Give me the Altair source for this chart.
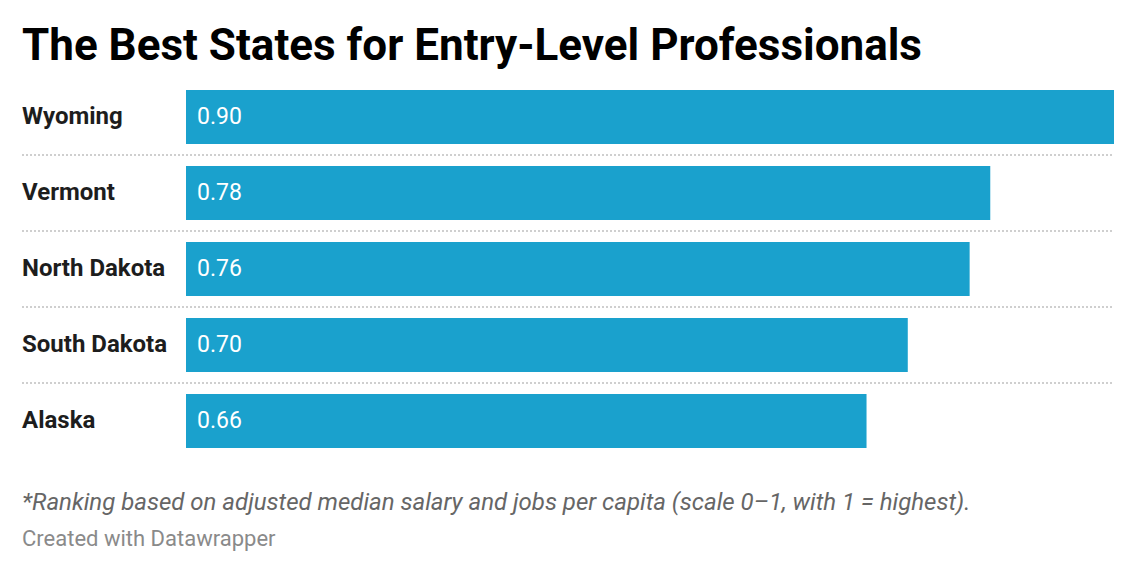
import altair as alt
import pandas as pd

# datos de la grafica
estados = ["Wyoming", "Vermont", "North Dakota", "South Dakota", "Alaska"]
puntajes = [0.90, 0.78, 0.76, 0.70, 0.66]

titulo = "The Best States for Entry-Level Professionals"
nota = "*Ranking based on adjusted median salary and jobs per capita (scale 0\u20131, with 1 = highest)."
credito = "Created with Datawrapper"

data = pd.DataFrame({"Estado": estados, "Puntaje": puntajes})
separadores = data.iloc[:-1]

FUENTE = "Roboto"
AZUL = "#1aa1cd"

y_enc = alt.Y("Estado:N", sort=estados, axis=None,
              scale=alt.Scale(paddingInner=22 / 76, paddingOuter=0.145))

barras = alt.Chart(data).mark_bar(color=AZUL).encode(
    x=alt.X("Puntaje:Q", axis=None, scale=alt.Scale(domain=[0, 0.9], nice=False)),
    y=y_enc,
)

valores = alt.Chart(data).mark_text(
    align="left", baseline="middle", font=FUENTE, fontSize=23, color="white"
).encode(
    x=alt.value(11),
    y=y_enc,
    text=alt.Text("Puntaje:Q", format=".2f"),
)

etiquetas = alt.Chart(data).mark_text(
    align="left", baseline="middle", font=FUENTE, fontSize=24,
    fontWeight="bold", color="#1d1d1d"
).encode(
    x=alt.value(-164),
    y=y_enc,
    text="Estado:N",
)

# lineas punteadas entre filas
lineas = alt.Chart(separadores).mark_rule(
    color="#cfcfcf", strokeWidth=2, strokeDash=[2, 2], yOffset=11
).encode(
    x=alt.value(-164),
    x2=alt.value(928),
    y=alt.Y("Estado:N", sort=estados, bandPosition=1, axis=None),
)


def texto_libre(texto, y, **estilo):
    return alt.Chart(pd.DataFrame({"texto": [texto]})).mark_text(
        align="left", baseline="alphabetic", font=FUENTE, **estilo
    ).encode(x=alt.value(-164), y=alt.value(y), text="texto:N")


encabezado = texto_libre(titulo, -19, fontSize=44, fontWeight="bold",
                         color="#000000")
pie = texto_libre(nota, 431, fontSize=24, fontStyle="italic", color="#666666")
firma = texto_libre(credito, 467, fontSize=22, color="#8a8a8a")

chart = alt.layer(lineas, barras, valores, etiquetas, encabezado, pie, firma).properties(
    width=928,
    height=380,
    padding={"left": 178, "top": 71, "right": 14, "bottom": 105},
    autosize=alt.AutoSizeParams(type="none"),
).configure_view(stroke=None)

chart.save("out.html", embed_options={"renderer": "svg", "actions": False})
